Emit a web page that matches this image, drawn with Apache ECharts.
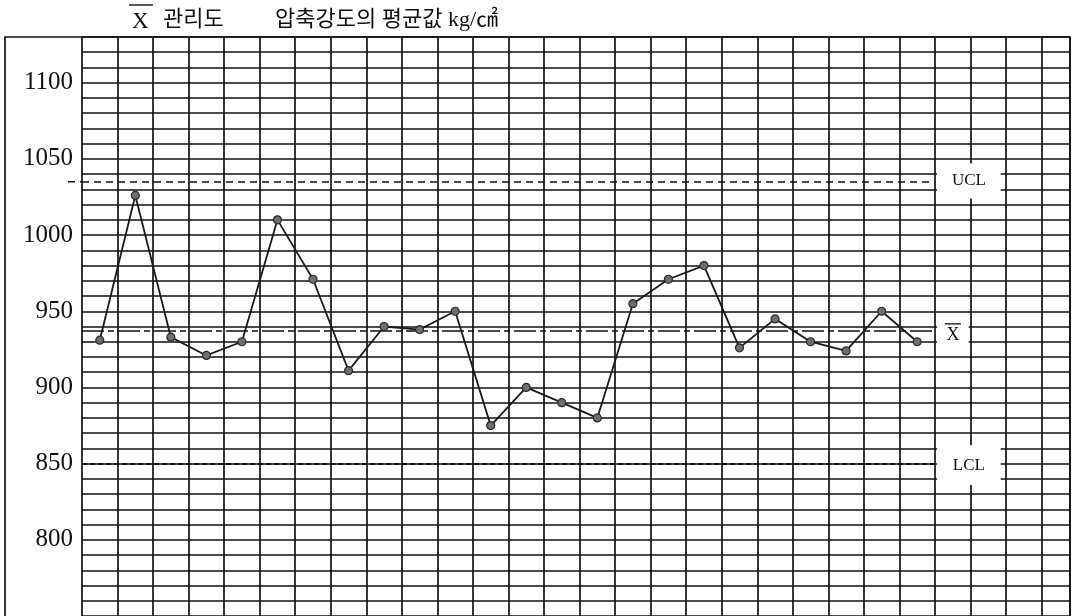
<!DOCTYPE html>
<html>
<head>
<meta charset="utf-8">
<script src="https://cdn.jsdelivr.net/npm/echarts@6/dist/echarts.min.js"></script>
<style>
  html, body { margin: 0; padding: 0; background: #fff; }
  #chart { width: 1075px; height: 616px; }
</style>
</head>
<body>
<div id="chart"></div>
<script>
// ---- data ----
const sampleNo = [1,2,3,4,5,6,7,8,9,10,11,12,13,14,15,16,17,18,19,20,21,22,23,24];
const xbarValues = [931, 1026, 933, 921, 930, 1010, 971, 911, 940, 938, 950, 875,
                    900, 890, 880, 955, 971, 980, 926, 945, 930, 924, 950, 930];
const UCL = 1035;
const CL = 937;
const LCL = 850;
const yTickLabels = [800, 850, 900, 950, 1000, 1050, 1100];
const limitNames = ['UCL', 'X', 'LCL'];

const serif = "'Liberation Serif', 'DejaVu Serif', serif";
const kr = "'Liberation Serif', 'Noto Sans CJK KR', sans-serif";
const ink = '#111';

const chart = echarts.init(document.getElementById('chart'), null, { renderer: 'canvas' });

const labelBase = { show: true, position: 'inside', color: ink, fontFamily: serif, fontSize: 17 };
const uclStyle = { color: ink, width: 1.6, type: [7, 5] };
const clStyle = { color: ink, width: 1.6, type: [22, 4, 6, 4] };
const lclStyle = { color: ink, width: 1.8, type: [5, 3] };

const option = {
  backgroundColor: '#fff',
  animation: false,
  grid: { left: 82, top: 37, right: 5, bottom: 0, containLabel: false },
  xAxis: {
    type: 'value', min: 0, max: 27.8, interval: 1,
    axisLine: { show: false }, axisTick: { show: false }, axisLabel: { show: false },
    splitLine: { show: true, lineStyle: { color: ink, width: 1.7 } }
  },
  yAxis: {
    type: 'value', min: 750, max: 1130, interval: 10,
    axisLine: { show: false }, axisTick: { show: false },
    axisLabel: {
      show: true, margin: 9, color: ink, fontFamily: serif, fontSize: 25,
      formatter: v => (yTickLabels.indexOf(v) >= 0 ? String(v) : '')
    },
    splitLine: { show: true, lineStyle: { color: ink, width: 1.7 } }
  },
  series: [{
    type: 'line',
    data: xbarValues.map((v, i) => [sampleNo[i] - 0.5, v]),
    symbol: 'circle', symbolSize: 8,
    lineStyle: { color: '#1a1a1a', width: 1.8 },
    itemStyle: { color: '#6e6e6e', borderColor: '#2a2a2a', borderWidth: 1.2 },
    z: 5,
    markArea: {
      silent: true,
      itemStyle: { color: '#fff', opacity: 1 },
      data: [
        [{ coord: [24.06, 1047], label: Object.assign({}, labelBase, { formatter: limitNames[0] }) }, { coord: [25.85, 1024] }],
        [{ coord: [24.06, 948], label: Object.assign({}, labelBase, {
            formatter: '{bar|}\n{x|' + limitNames[1] + '}',
            rich: {
              bar: { width: 16, height: 1.3, backgroundColor: ink, lineHeight: 4 },
              x: { fontFamily: serif, fontSize: 18, color: ink, lineHeight: 19 }
            }
          }) }, { coord: [24.95, 923] }],
        [{ coord: [24.06, 862], label: Object.assign({}, labelBase, { formatter: limitNames[2] }) }, { coord: [25.85, 836] }]
      ]
    },
    markLine: {
      silent: true, symbol: 'none', label: { show: false },
      data: [
        [{ coord: [0, UCL], lineStyle: uclStyle }, { coord: [24, UCL], lineStyle: uclStyle }],
        [{ coord: [0, CL], lineStyle: clStyle }, { coord: [24, CL], lineStyle: clStyle }],
        [{ coord: [0, LCL], lineStyle: lclStyle }, { coord: [24, LCL], lineStyle: lclStyle }]
      ]
    }
  }],
  graphic: [
    { id: 'frame', type: 'rect', shape: { x: 5, y: 37, width: 1065, height: 600 },
      style: { fill: 'none', stroke: ink, lineWidth: 1.7 }, z: 10, silent: true },
    { type: 'line', shape: { x1: 129, y1: 5, x2: 153, y2: 5 }, style: { stroke: ink, lineWidth: 1.4 }, silent: true },
    { type: 'text', left: 132, top: 10, style: { text: 'X', font: "23px " + serif, fill: ink } },
    { type: 'text', left: 163, top: 9, style: { text: '관리도', font: "22px " + kr, fill: ink } },
    { type: 'text', left: 275, top: 9, style: { text: '압축강도의 평균값 kg/㎠', font: "22px " + kr, fill: ink } }
  ]
};

chart.setOption(option);

// short UCL stub reaching into the label margin, placed via the axis scale
const p0 = chart.convertToPixel({ gridIndex: 0 }, [0, UCL]);
chart.setOption({
  graphic: [{
    id: 'uclStub', type: 'line', silent: true,
    shape: { x1: p0[0] - 14, y1: p0[1], x2: p0[0], y2: p0[1] },
    style: { stroke: ink, lineWidth: 1.6, lineDash: [7, 5] }
  }]
});
</script>
</body>
</html>
